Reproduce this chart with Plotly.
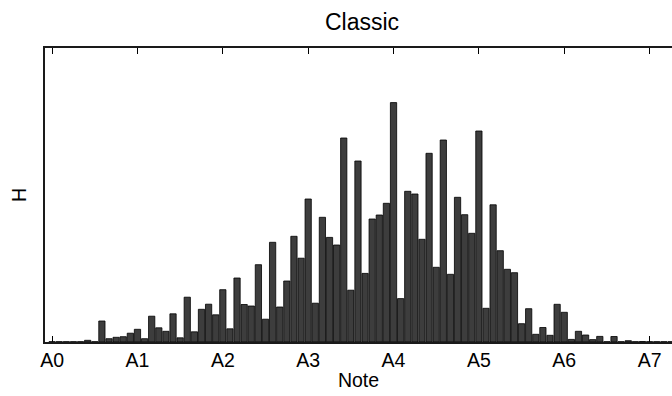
import plotly.graph_objects as go

# Semitone offsets above A0 (one bar per piano key, A0 .. C8)
notes = list(range(88))

# Relative occurrence of each key in the classical corpus
heights = [
    0.3, 0.3, 0.3, 0.3, 0.3, 1.7, 0.3, 21.0, 3.3, 4.7, 5.3, 8.8,
    12.7, 3.3, 25.8, 14.2, 10.7, 28.2, 4.2, 44.8, 10.2, 32.7, 37.8, 27.2,
    52.3, 13.2, 64.0, 37.5, 36.0, 77.3, 22.8, 99.7, 35.0, 61.0, 105.7, 83.8,
    143.0, 38.8, 124.7, 104.6, 97.0, 204.0, 51.8, 181.0, 68.6, 123.0, 127.0, 138.7,
    239.4, 43.4, 150.7, 148.0, 102.7, 188.7, 74.7, 202.0, 67.7, 144.7, 127.3, 108.7,
    211.0, 33.7, 137.2, 91.3, 72.7, 69.3, 18.3, 33.3, 7.7, 14.5, 6.7, 37.7,
    29.7, 2.6, 10.7, 7.0, 2.4, 5.6, 0.3, 5.5, 0.3, 1.3, 0.3, 0.5,
    0.3, 0.3, 0.3, 0.3,
]

tick_positions = [0, 12, 24, 36, 48, 60, 72, 84]
tick_labels = ["A0", "A1", "A2", "A3", "A4", "A5", "A6", "A7"]

font_family = "Liberation Sans, Arial, sans-serif"

fig = go.Figure(
    go.Bar(
        x=notes,
        y=heights,
        width=0.88,
        marker=dict(color="#3d3d3d", line=dict(color="#000000", width=0.8)),
    )
)

fig.update_layout(
    width=672,
    height=396,
    margin=dict(l=45, r=0, t=48, b=54),
    paper_bgcolor="white",
    plot_bgcolor="white",
    showlegend=False,
    font=dict(family=font_family, size=19.5, color="#000000"),
    title=dict(
        text="Classic",
        x=0.5056,
        xref="paper",
        xanchor="center",
        y=1 - 22 / 396,
        yref="container",
        yanchor="middle",
        font=dict(family=font_family, size=23, color="#000000"),
    ),
)

fig.update_xaxes(
    range=[-1, 87.15],
    tickmode="array",
    tickvals=tick_positions,
    ticktext=tick_labels,
    ticks="inside",
    ticklen=6,
    tickwidth=1,
    tickcolor="#000000",
    showline=True,
    linecolor="#1a1a1a",
    linewidth=1.5,
    mirror="ticks",
    showgrid=False,
    zeroline=False,
    layer="below traces",
    tickfont=dict(size=19.5),
    title=dict(text="Note", standoff=3, font=dict(size=19.5)),
)

fig.update_yaxes(
    range=[0, 294],
    showticklabels=False,
    ticks="",
    showline=True,
    linecolor="#1a1a1a",
    linewidth=1.5,
    showgrid=False,
    zeroline=False,
    title=dict(text="H", standoff=11, font=dict(size=19.5)),
)

fig.write_html("out.html")
